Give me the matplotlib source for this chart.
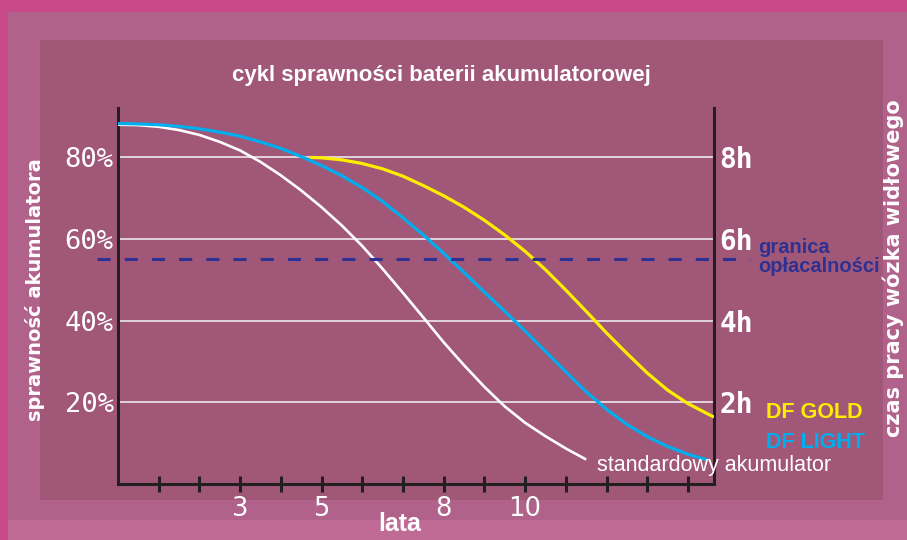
import matplotlib
matplotlib.use("Agg")
import matplotlib.pyplot as plt
from matplotlib.patches import Rectangle

# ---------------- data ----------------
years_std = [0, 0.5, 1, 1.5, 2, 2.5, 3, 3.5, 4, 4.5, 5, 5.5, 6, 6.5, 7, 7.5, 8,
             8.5, 9, 9.5, 10, 10.5, 11, 11.5]
eff_std = [88, 87.9, 87.5, 86.7, 85.5, 83.8, 81.7, 78.9, 75.6, 71.9, 67.8, 63.3,
           58.3, 52.7, 46.8, 40.8, 34.7, 29.1, 23.8, 19, 15, 11.7, 8.7, 6]

years_light = [0, 0.5, 1, 1.5, 2, 2.5, 3, 3.5, 4, 4.5, 5, 5.5, 6, 6.5, 7, 7.5,
               8, 8.5, 9, 9.5, 10, 10.5, 11, 11.5, 12, 12.5, 13, 13.5, 14, 14.5]
eff_light = [88.3, 88.2, 88, 87.6, 87, 86.2, 85.2, 83.8, 82.2, 80.2, 78, 75.5,
             72.6, 69.2, 65.2, 61, 56.5, 51.8, 47, 42.3, 37.5, 32.5, 27.5, 22.6,
             18.3, 14.6, 11.6, 9.2, 7.3, 5.8]

years_gold = [4.72, 5, 5.5, 6, 6.5, 7, 7.5, 8, 8.5, 9, 9.5, 10, 10.5, 11, 11.5,
              12, 12.5, 13, 13.5, 14, 14.5, 14.64]
eff_gold = [80, 79.9, 79.4, 78.5, 77.2, 75.4, 73.1, 70.6, 67.8, 64.6, 61, 57, 52.5,
            47.5, 42.3, 37, 32, 27.2, 23, 19.7, 17.1, 16.4]

threshold = 55
ytick_vals = [20, 40, 60, 80]
ytick_left = ["20%", "40%", "60%", "80%"]
ytick_right = ["2h", "4h", "6h", "8h"]
xtick_vals = list(range(1, 15))
xtick_labels = {3: "3", 5: "5", 8: "8", 10: "10"}

title = "cykl sprawności baterii akumulatorowej"
xlabel = "lata"
ylabel_left = "sprawność akumulatora"
ylabel_right = "czas pracy wózka widłowego"
label_gold = "DF GOLD"
label_light = "DF LIGHT"
label_std = "standardowy akumulator"
label_thr = "granica\nopłacalności"

# ---------------- figure ----------------
W, H = 907, 540
fig = plt.figure(figsize=(W / 100, H / 100), dpi=100)
fig.patch.set_facecolor("#C84A88")


def frect(x0, y0, x1, y1, color):
    fig.patches.append(Rectangle((x0 / W, 1 - y1 / H), (x1 - x0) / W, (y1 - y0) / H,
                                 transform=fig.transFigure, facecolor=color,
                                 edgecolor="none", zorder=-10))


frect(8, 12, 907, 540, "#B0628A")
frect(40, 40, 883, 500, "#A15878")
frect(8, 520, 907, 540, "#BF6B96")

ax_l, ax_r, ax_b, ax_t = 118, 714, 484, 108
ax = fig.add_axes([ax_l / W, 1 - ax_b / H, (ax_r - ax_l) / W, (ax_b - ax_t) / H])
ax.set_facecolor("none")
ax.set_xlim(0, 14.64)
ax.set_ylim(0, 92.1)

spine_c = "#231F20"
for s in ["left", "right", "bottom"]:
    ax.spines[s].set_color(spine_c)
    ax.spines[s].set_linewidth(2.2)
    ax.spines[s].set_capstyle("projecting")
ax.spines["top"].set_visible(False)

# grid lines
for v in ytick_vals:
    ax.axhline(v, color="#E6DCE3", lw=1.3, zorder=1)

# curves
ax.plot(years_std, eff_std, color="white", lw=1.9, zorder=3,
        solid_capstyle="butt", solid_joinstyle="round")
ax.plot(years_light, eff_light, color="#00AEEF", lw=2.3, zorder=4,
        solid_capstyle="butt", solid_joinstyle="round")
ax.plot(years_gold, eff_gold, color="#FFED00", lw=2.3, zorder=5,
        solid_capstyle="butt", solid_joinstyle="round")

# threshold dashed line (extends beyond axes)
ax.plot([-0.52, 15.53], [threshold, threshold], color="#2E3192", lw=2.2,
        dashes=(4.3, 4.6), clip_on=False, zorder=6)

# x ticks
ax.set_xticks(xtick_vals)
ax.set_xticklabels([xtick_labels.get(v, "") for v in xtick_vals])
ax.tick_params(axis="x", direction="inout", length=11.5, width=2.2, color=spine_c,
               pad=3, labelsize=18.5, labelcolor="white")
for t in ax.get_xticklabels():
    t.set_fontfamily("DejaVu Sans")

# left y ticks
ax.set_yticks(ytick_vals)
ax.set_yticklabels(ytick_left)
ax.tick_params(axis="y", length=0, pad=3, labelsize=19.5, labelcolor="white")
for t in ax.get_yticklabels():
    t.set_fontfamily("DejaVu Sans Mono")

# right y ticks
ax2 = ax.twinx()
ax2.set_ylim(ax.get_ylim())
ax2.set_yticks(ytick_vals)
ax2.set_yticklabels(ytick_right)
ax2.tick_params(axis="y", length=0, pad=4, labelsize=20, labelcolor="white")
for t in ax2.get_yticklabels():
    t.set_fontfamily("DejaVu Sans Mono")
    t.set_fontweight("bold")
for s in ax2.spines.values():
    s.set_visible(False)

# texts
fig.text(441 / W, 1 - 75 / H, title, color="white", fontsize=16, fontweight="bold",
         family="Liberation Sans", ha="center", va="center")
fig.text(400 / W, 1 - 524 / H, xlabel, color="white", fontsize=18, fontweight="bold",
         family="Liberation Sans", ha="center", va="center")
fig.text(35 / W, 1 - 290 / H, ylabel_left, color="white", fontsize=14, fontweight="bold",
         family="DejaVu Sans", ha="center", va="center", rotation=90)
fig.text(893 / W, 1 - 268 / H, ylabel_right, color="white", fontsize=15, fontweight="bold",
         family="DejaVu Sans", ha="center", va="center", rotation=90)
fig.text(758 / W, 1 - 257 / H, label_thr, color="#2E3192", fontsize=14.5, fontweight="bold",
         family="Liberation Sans", ha="left", va="center", linespacing=0.95)
fig.text(766 / W, 1 - 413 / H, label_gold, color="#FFED00", fontsize=15.5, fontweight="bold",
         family="Liberation Sans", ha="left", va="center")
fig.text(766 / W, 1 - 442 / H, label_light, color="#00AEEF", fontsize=15.5, fontweight="bold",
         family="Liberation Sans", ha="left", va="center")
fig.text(597 / W, 1 - 465 / H, label_std, color="white", fontsize=15.5,
         family="Liberation Sans", ha="left", va="center")

fig.savefig("out.png", dpi=100, facecolor=fig.get_facecolor())
